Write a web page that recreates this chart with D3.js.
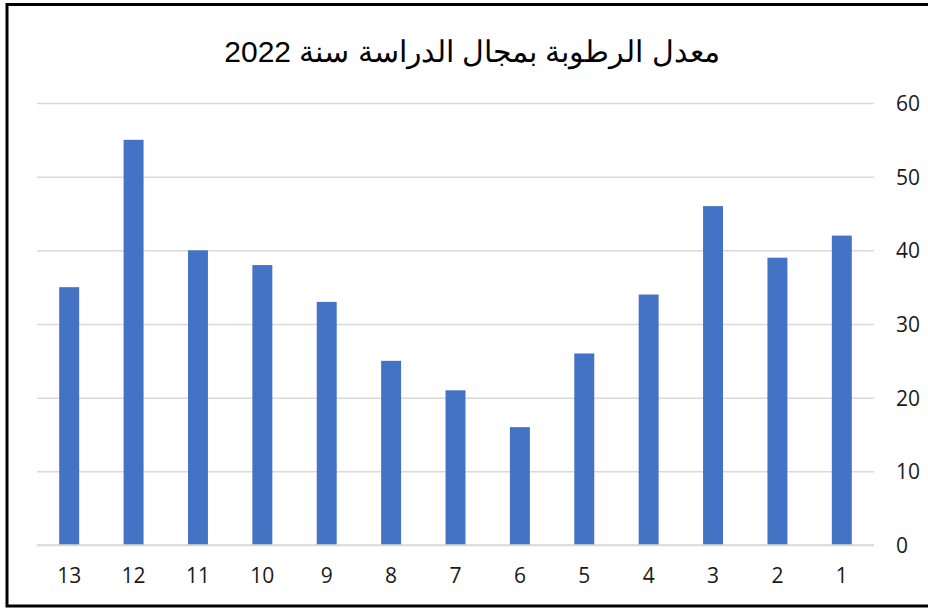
<!DOCTYPE html>
<html>
<head>
<meta charset="utf-8">
<style>
  body { margin: 0; background: #fff; }
</style>
</head>
<body>
<svg id="chart" width="928" height="608"></svg>
<script src="https://d3js.org/d3.v7.min.js"></script>
<script>
  // البيانات
  const categories = ['13', '12', '11', '10', '9', '8', '7', '6', '5', '4', '3', '2', '1'];
  const humidity = [35, 55, 40, 38, 33, 25, 21, 16, 26, 34, 46, 39, 42];
  const yTicks = [0, 10, 20, 30, 40, 50, 60];
  const title = 'معدل الرطوبة بمجال الدراسة سنة 2022';

  const svg = d3.select('#chart');
  const margin = {top: 103, right: 54, bottom: 63, left: 37};
  const width = +svg.attr('width');
  const height = +svg.attr('height');
  const innerWidth = width - margin.left - margin.right;
  const innerHeight = height - margin.top - margin.bottom;
  const tickFont = '"Open Sans", "Noto Sans", sans-serif';

  // frame
  svg.append('rect')
     .attr('x', 7).attr('y', 4.5)
     .attr('width', 925).attr('height', 601.5)
     .attr('fill', 'none')
     .attr('stroke', '#000')
     .attr('stroke-width', 3);

  svg.append('text')
     .attr('x', 472).attr('y', 62)
     .attr('text-anchor', 'middle')
     .attr('font-family', 'Arial, "Liberation Sans", sans-serif')
     .attr('font-size', 30)
     .attr('fill', '#000')
     .text(title);

  const g = svg.append('g')
               .attr('transform', `translate(${margin.left}, ${margin.top})`);

  const x = d3.scaleBand()
              .domain(categories)
              .range([0, innerWidth])
              .paddingInner(0.69)
              .paddingOuter(0.345);

  const y = d3.scaleLinear()
              .domain([0, 60])
              .range([innerHeight, 0]);

  // grid lines + right axis labels
  const yAxis = d3.axisRight(y)
                  .tickValues(yTicks)
                  .tickSize(-innerWidth)
                  .tickPadding(22);
  g.append('g')
   .attr('transform', `translate(${innerWidth}, 0)`)
   .call(yAxis)
   .call(s => s.select('.domain').remove())
   .call(s => s.selectAll('.tick line').attr('stroke', '#d9d9d9').attr('stroke-width', 1.5))
   .call(s => s.selectAll('.tick text')
               .attr('dy', null)
               .attr('y', 7.5)
               .attr('text-anchor', 'start')
               .attr('font-family', tickFont)
               .attr('font-size', 21)
               .attr('fill', '#1a1a1a'));

  const xAxis = d3.axisBottom(x).tickSize(0).tickPadding(23);
  g.append('g')
   .attr('transform', `translate(0, ${innerHeight})`)
   .call(xAxis)
   .call(s => s.select('.domain').remove())
   .call(s => s.selectAll('.tick text')
               .attr('dy', null)
               .attr('y', 38)
               .attr('text-anchor', 'middle')
               .attr('font-family', tickFont)
               .attr('font-size', 21)
               .attr('fill', '#1a1a1a'));

  g.append('g')
   .selectAll('rect')
   .data(humidity)
   .join('rect')
   .attr('x', (d, i) => x(categories[i]))
   .attr('y', d => y(d))
   .attr('width', x.bandwidth())
   .attr('height', d => y(0) - y(d))
   .attr('fill', '#4472c4');

  // baseline
  g.append('line')
   .attr('x1', 0).attr('x2', innerWidth)
   .attr('y1', y(0)).attr('y2', y(0))
   .attr('stroke', '#d9d9d9')
   .attr('stroke-width', 1.5);
</script>
</body>
</html>
